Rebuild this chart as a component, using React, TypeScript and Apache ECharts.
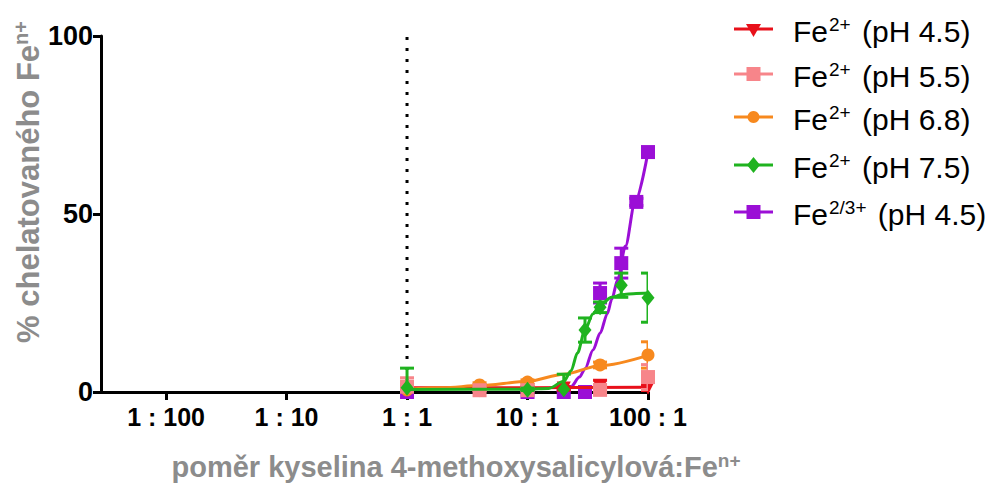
import React, { useEffect, useRef } from 'react';
import * as echarts from 'echarts';

// ---------- data (x values are ratios acid : Fe) ----------
const tickRatios = [0.01, 0.1, 1, 10, 100];
const tickLabels = ['1 : 100', '1 : 10', '1 : 1', '10 : 1', '100 : 1'];
const yTicks = [0, 50, 100];
const refLineX = 1;

// Fe2+ pH 4.5 (red)
const redX = [1, 4, 10, 20, 40, 100];
const redY = [0.5, 0.5, 0.5, 1.0, 1.3, 1.2];
const redErr = [0.5, 0.5, 0.5, 0.5, 2.0, 0.8];
const redFitX = [1, 10, 100];
const redFitY = [1.2, 1.2, 1.3];

// Fe2+ pH 5.5 (pink)
const pinkX = [1, 4, 10, 40, 100];
const pinkY = [1.5, 0.5, 0.5, 0.6, 4.2];
const pinkErr = [2.5, 0.5, 0.5, 0.5, 3.5];

// Fe2+ pH 6.8 (orange)
const orangeX = [1, 4, 10, 40, 100];
const orangeY = [0.6, 2.0, 2.8, 7.6, 10.4];
const orangeErr = [0.5, 0.6, 0.6, 0.8, 3.7];
const orangeFitX = [1, 2, 4, 10, 20, 40, 100];
const orangeFitY = [0.8, 1.2, 1.8, 3.0, 5.0, 7.4, 10.3];

// Fe2+ pH 7.5 (green)
const greenX = [1, 10, 20, 30, 40, 60, 100];
const greenY = [1.2, 0.6, 0.8, 17.4, 23.8, 30.0, 26.5];
const greenErr = [5.5, 0.5, 4.2, 3.4, 1.5, 3.4, 6.9];
const greenFitX = [1, 10, 15, 20, 23, 26, 30, 35, 40, 50, 60, 80, 100];
const greenFitY = [0.7, 0.8, 1.0, 3.0, 6.0, 11.0, 17.5, 22.0, 24.5, 26.6, 27.3, 27.7, 27.8];

// Fe2/3+ pH 4.5 (purple)
const purpleX = [1, 10, 20, 30, 40, 60, 80, 100];
const purpleY = [0, 0, 0, 0, 27.8, 36.2, 53.4, 67.4];
const purpleErr = [0.3, 0.3, 0.3, 0.3, 2.8, 4.2, 1.0, 1.0];
const purpleFitX = [18, 20, 23, 27, 30, 35, 40, 46, 50, 56, 65, 78, 100];
const purpleFitY = [0, 0.3, 1.5, 4.2, 6.5, 11.8, 16.5, 22.0, 26.0, 31.5, 41.0, 53.4, 67.4];

const COLORS = {
  red: '#e8101a',
  pink: '#f7858a',
  orange: '#f7891e',
  green: '#1fb31f',
  purple: '#9b0fd6',
};

const legendItems = [
  { sup: '2+', ph: '(pH 4.5)', color: COLORS.red, marker: 'tri' },
  { sup: '2+', ph: '(pH 5.5)', color: COLORS.pink, marker: 'square' },
  { sup: '2+', ph: '(pH 6.8)', color: COLORS.orange, marker: 'circle' },
  { sup: '2+', ph: '(pH 7.5)', color: COLORS.green, marker: 'diamond' },
  { sup: '2/3+', ph: '(pH 4.5)', color: COLORS.purple, marker: 'square' },
];

const FONT = 'Liberation Sans, Arial, sans-serif';
const lg = (v: number) => Math.log10(v);

function pts(xs: number[], ys: number[]) {
  return xs.map((x, i) => [lg(x), ys[i]]);
}
function errs(xs: number[], ys: number[], es: number[]) {
  return xs.map((x, i) => [lg(x), ys[i] - es[i], ys[i] + es[i]]);
}

function errorSeries(name: string, color: string, data: number[][], z: number) {
  return {
    type: 'custom',
    name,
    z,
    clip: true,
    data,
    encode: { x: 0, y: [1, 2] },
    renderItem: (params: any, api: any) => {
      const x = api.value(0);
      const lo = api.value(1);
      const hi = api.value(2);
      const p1 = api.coord([x, lo]);
      const p2 = api.coord([x, hi]);
      const w = 7;
      const st = { stroke: color, lineWidth: 3 };
      return {
        type: 'group',
        children: [
          { type: 'line', shape: { x1: p1[0], y1: p1[1], x2: p2[0], y2: p2[1] }, style: st },
          { type: 'line', shape: { x1: p2[0] - w, y1: p2[1], x2: p2[0] + w, y2: p2[1] }, style: st },
          { type: 'line', shape: { x1: p1[0] - w, y1: p1[1], x2: p1[0] + w, y2: p1[1] }, style: st },
        ],
      };
    },
  };
}

function fitSeries(name: string, color: string, data: number[][], z: number) {
  return {
    type: 'line',
    name,
    z,
    data,
    smooth: 0.3,
    smoothMonotone: 'x',
    showSymbol: false,
    symbol: 'none',
    lineStyle: { color, width: 3 },
    clip: true,
  };
}

function pointSeries(name: string, color: string, data: number[][], symbol: string, size: any, z: number, rotate = 0) {
  return {
    type: 'scatter',
    name,
    z,
    data,
    symbol,
    symbolSize: size,
    symbolRotate: rotate,
    itemStyle: { color, opacity: 1 },
    clip: true,
  };
}

function legendGraphics() {
  const rowsY = [29, 74, 117, 165, 212];
  const lineX1 = 734;
  const lineX2 = 773;
  const cx = (lineX1 + lineX2) / 2;
  const textX = 793;
  const out: any[] = [];
  legendItems.forEach((it, i) => {
    const y = rowsY[i];
    out.push({
      type: 'line',
      shape: { x1: lineX1, y1: y, x2: lineX2, y2: y },
      style: { stroke: it.color, lineWidth: 3 },
    });
    if (it.marker === 'square') {
      out.push({ type: 'rect', shape: { x: cx - 7, y: y - 7, width: 14, height: 14 }, style: { fill: it.color } });
    } else if (it.marker === 'circle') {
      out.push({ type: 'circle', shape: { cx, cy: y, r: 6 }, style: { fill: it.color } });
    } else if (it.marker === 'diamond') {
      out.push({
        type: 'polygon',
        shape: { points: [[cx, y - 8], [cx + 6.5, y], [cx, y + 8], [cx - 6.5, y]] },
        style: { fill: it.color },
      });
    } else {
      out.push({
        type: 'polygon',
        shape: { points: [[cx - 7.5, y - 5], [cx + 7.5, y - 5], [cx, y + 8]] },
        style: { fill: it.color },
      });
    }
    out.push({
      type: 'text',
      x: textX,
      y: y + 2,
      style: {
        text: `{m|Fe}{s|${it.sup}}{m| ${it.ph}}`,
        verticalAlign: 'middle',
        align: 'left',
        fill: '#000',
        rich: {
          m: { fontSize: 30, fontFamily: FONT, fill: '#000', lineHeight: 32 },
          s: { fontSize: 19, fontFamily: FONT, fill: '#000', verticalAlign: 'top', lineHeight: 19, padding: [0, 3, 0, 1] },
        },
      },
    });
  });
  return out;
}

export default function App() {
  const ref = useRef<HTMLDivElement>(null);

  useEffect(() => {
    if (!ref.current) return;
    const chart = echarts.init(ref.current, undefined, { renderer: 'svg' });
    const tickVals = tickRatios.map(lg);
    const labelFor = (v: number) => {
      const idx = tickVals.findIndex((t) => Math.abs(t - v) < 1e-6);
      return idx >= 0 ? tickLabels[idx] : '';
    };
    const titleRich = {
      m: { fontSize: 29, fontWeight: 'bold', fontFamily: FONT, fill: '#8c8c8c', lineHeight: 32 },
      s: { fontSize: 19, fontWeight: 'bold', fontFamily: FONT, fill: '#8c8c8c', verticalAlign: 'top', lineHeight: 19 },
    };

    const option: any = {
      animation: false,
      backgroundColor: '#ffffff',
      grid: { left: 101, right: 350, top: 36, bottom: 94, containLabel: false },
      xAxis: {
        type: 'value',
        min: -2.54,
        max: 2,
        splitLine: { show: false },
        axisLine: { show: true, onZero: false, lineStyle: { color: '#000', width: 3 } },
        axisTick: { show: true, customValues: tickVals, length: 8, lineStyle: { color: '#000', width: 3 } },
        axisLabel: {
          show: true,
          customValues: tickVals,
          formatter: (v: number) => labelFor(v),
          color: '#000',
          fontSize: 25,
          fontWeight: 'bold',
          fontFamily: FONT,
          margin: 12,
        },
      },
      yAxis: {
        type: 'value',
        min: 0,
        max: 100,
        interval: 50,
        splitLine: { show: false },
        axisLine: { show: true, onZero: false, lineStyle: { color: '#000', width: 3 } },
        axisTick: { show: true, length: 8, lineStyle: { color: '#000', width: 3 } },
        axisLabel: {
          color: '#000',
          fontSize: 27,
          fontWeight: 'bold',
          fontFamily: FONT,
          margin: 8,
          formatter: (v: number) => (yTicks.includes(v) ? String(v) : ''),
        },
      },
      graphic: [
        {
          type: 'text',
          x: 28,
          y: 182,
          rotation: Math.PI / 2,
          style: {
            text: '{m|% chelatovaného Fe}{s|n+}',
            align: 'center',
            verticalAlign: 'middle',
            rich: { m: { ...titleRich.m, fontSize: 31, lineHeight: 34 }, s: { ...titleRich.s, fontSize: 20, lineHeight: 20 } },
          },
        },
        {
          type: 'text',
          x: 456,
          y: 467,
          style: {
            text: '{m|poměr kyselina 4-methoxysalicylová:Fe}{s|n+}',
            align: 'center',
            verticalAlign: 'middle',
            rich: titleRich,
          },
        },
        ...legendGraphics(),
      ],
      series: [
        // dotted reference line at 1:1
        {
          type: 'line',
          name: 'ref',
          z: 1,
          clip: false,
          data: [[lg(refLineX), 0], [lg(refLineX), 101.5]],
          symbol: 'none',
          showSymbol: false,
          lineStyle: { color: '#000', width: 3, type: [3, 8] },
        },
        errorSeries('purpleErr', COLORS.purple, errs(purpleX, purpleY, purpleErr), 2),
        fitSeries('purpleFit', COLORS.purple, pts(purpleFitX, purpleFitY), 3),
        pointSeries('Fe2/3+ (pH 4.5)', COLORS.purple, pts(purpleX, purpleY), 'rect', 14, 4),

        errorSeries('redErr', COLORS.red, errs(redX, redY, redErr), 5),
        fitSeries('redFit', COLORS.red, pts(redFitX, redFitY), 6),
        pointSeries('Fe2+ (pH 4.5)', COLORS.red, pts(redX, redY), 'triangle', 14, 7, 180),

        errorSeries('orangeErr', COLORS.orange, errs(orangeX, orangeY, orangeErr), 8),
        fitSeries('orangeFit', COLORS.orange, pts(orangeFitX, orangeFitY), 9),
        pointSeries('Fe2+ (pH 6.8)', COLORS.orange, pts(orangeX, orangeY), 'circle', 13, 10),

        errorSeries('pinkErr', COLORS.pink, errs(pinkX, pinkY, pinkErr), 11),
        pointSeries('Fe2+ (pH 5.5)', COLORS.pink, pts(pinkX, pinkY), 'rect', 14, 12),

        errorSeries('greenErr', COLORS.green, errs(greenX, greenY, greenErr), 13),
        fitSeries('greenFit', COLORS.green, pts(greenFitX, greenFitY), 14),
        pointSeries('Fe2+ (pH 7.5)', COLORS.green, pts(greenX, greenY), 'diamond', [13, 16], 15),
      ],
    };
    chart.setOption(option);
    return () => chart.dispose();
  }, []);

  return (
    <div
      ref={ref}
      style={{ position: 'absolute', left: 0, top: 0, width: 998, height: 486, background: '#fff' }}
    />
  );
}
